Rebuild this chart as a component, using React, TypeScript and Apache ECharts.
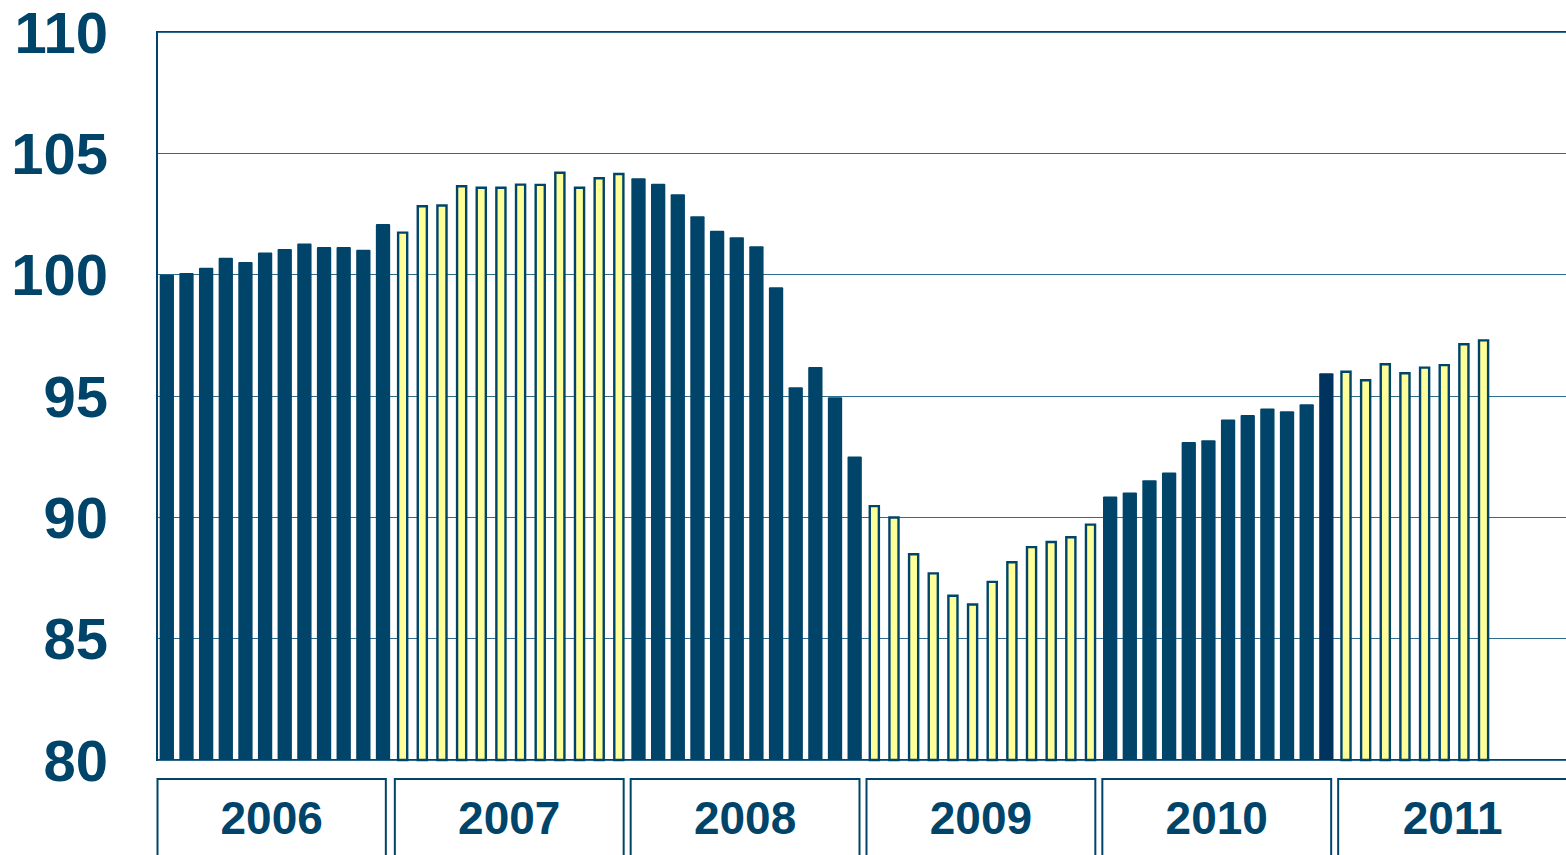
import React, { useEffect, useRef } from "react";
import * as echarts from "echarts";

const years = ["2006", "2007", "2008", "2009", "2010", "2011"];
const v2006 = [100.0, 100.07, 100.28, 100.7, 100.52, 100.91, 101.06, 101.28, 101.14, 101.14, 101.03, 102.09];
const v2007 = [101.78, 102.87, 102.9, 103.69, 103.63, 103.63, 103.76, 103.75, 104.25, 103.63, 104.02, 104.2];
const v2008 = [103.97, 103.75, 103.31, 102.41, 101.81, 101.54, 101.17, 99.48, 95.36, 96.19, 94.95, 92.51];
const v2009 = [90.51, 90.04, 88.53, 87.74, 86.82, 86.46, 87.39, 88.2, 88.82, 89.03, 89.23, 89.75];
const v2010 = [90.86, 91.02, 91.53, 91.85, 93.1, 93.18, 94.03, 94.22, 94.48, 94.37, 94.66, 95.94];
const v2011 = [96.05, 95.7, 96.36, 95.99, 96.22, 96.32, 97.18, 97.34];
const yearValues = [v2006, v2007, v2008, v2009, v2010, v2011];
const yMin = 80;
const yMax = 110;
const yStep = 5;

const DARK = "#00446a";
const DARKER = "#00335e";
const YELLOW = "#ffff99";
const FONT = "'Liberation Sans', Arial, Helvetica, sans-serif";

export default function App() {
  const ref = useRef<HTMLDivElement>(null);
  useEffect(() => {
    const chart = echarts.init(ref.current!, null, { renderer: "svg" });
    const categories: string[] = [];
    const dark: any[] = [];
    const light: any[] = [];
    years.forEach((y, yi) => {
      for (let m = 0; m < 12; m++) {
        categories.push(`${y}-${String(m + 1).padStart(2, "0")}`);
        const v = yearValues[yi][m];
        if (v === undefined) {
          dark.push("-");
          light.push("-");
        } else if (yi % 2 === 0) {
          if (yi === 4 && m === 11) dark.push({ value: v, itemStyle: { color: DARKER } });
          else dark.push(v);
          light.push("-");
        } else {
          dark.push("-");
          light.push(v);
        }
      }
    });

    const catAxis = {
      type: "category",
      data: categories,
      boundaryGap: true,
      axisLine: { show: false },
      axisTick: { show: false },
      axisLabel: { show: false },
      splitLine: { show: false },
    };

    chart.setOption({
      animation: false,
      backgroundColor: "#ffffff",
      grid: {
        left: 157,
        top: 32,
        right: 8,
        bottom: 95,
        show: true,
        borderColor: DARK,
        borderWidth: 2,
        containLabel: false,
      },
      xAxis: [catAxis, { ...catAxis, show: false }],
      yAxis: {
        type: "value",
        min: yMin,
        max: yMax,
        interval: yStep,
        axisLine: { show: true, lineStyle: { color: DARK, width: 2 } },
        axisTick: { show: false },
        axisLabel: {
          fontSize: 58,
          fontWeight: "bold",
          color: DARK,
          fontFamily: FONT,
          margin: 49,
        },
        splitLine: { lineStyle: { color: "#2f6b8c", width: 1 } },
      },
      series: [
        {
          type: "bar",
          xAxisIndex: 0,
          data: dark,
          barWidth: 14.3,
          itemStyle: { color: DARK, borderRadius: [1, 1, 0, 0] },
        },
        {
          type: "bar",
          xAxisIndex: 1,
          data: light,
          barWidth: 11.5,
          itemStyle: { color: YELLOW, borderColor: DARK, borderWidth: 2.4 },
        },
      ],
    });

    const c0 = chart.convertToPixel({ xAxisIndex: 0 }, 0) as number;
    const c1 = chart.convertToPixel({ xAxisIndex: 0 }, 1) as number;
    const band = c1 - c0;
    const axisY = chart.convertToPixel({ yAxisIndex: 0 }, yMin) as number;
    const graphics: any[] = [];
    years.forEach((y, yi) => {
      const start = (chart.convertToPixel({ xAxisIndex: 0 }, yi * 12) as number) - band / 2;
      const bx = yi === 0 ? start + 0.5 : start + 2;
      const bw = yi === 0 ? 12 * band - 7.5 : 12 * band - 7;
      graphics.push({
        type: "rect",
        shape: { x: bx, y: axisY + 19, width: bw, height: 120 },
        style: { fill: "none", stroke: DARK, lineWidth: 2 },
        silent: true,
      });
      graphics.push({
        type: "text",
        x: bx + bw / 2,
        y: axisY + 58,
        style: {
          text: y,
          fill: DARK,
          font: `bold 46px ${FONT}`,
          textAlign: "center",
          textVerticalAlign: "middle",
        },
        silent: true,
      });
    });
    chart.setOption({ graphic: graphics });

    return () => chart.dispose();
  }, []);
  return (
    <div
      style={{ position: "fixed", left: 0, top: 0, width: 1566, height: 855, overflow: "hidden" }}
    >
      <div ref={ref} style={{ width: 1580, height: 855 }} />
    </div>
  );
}
